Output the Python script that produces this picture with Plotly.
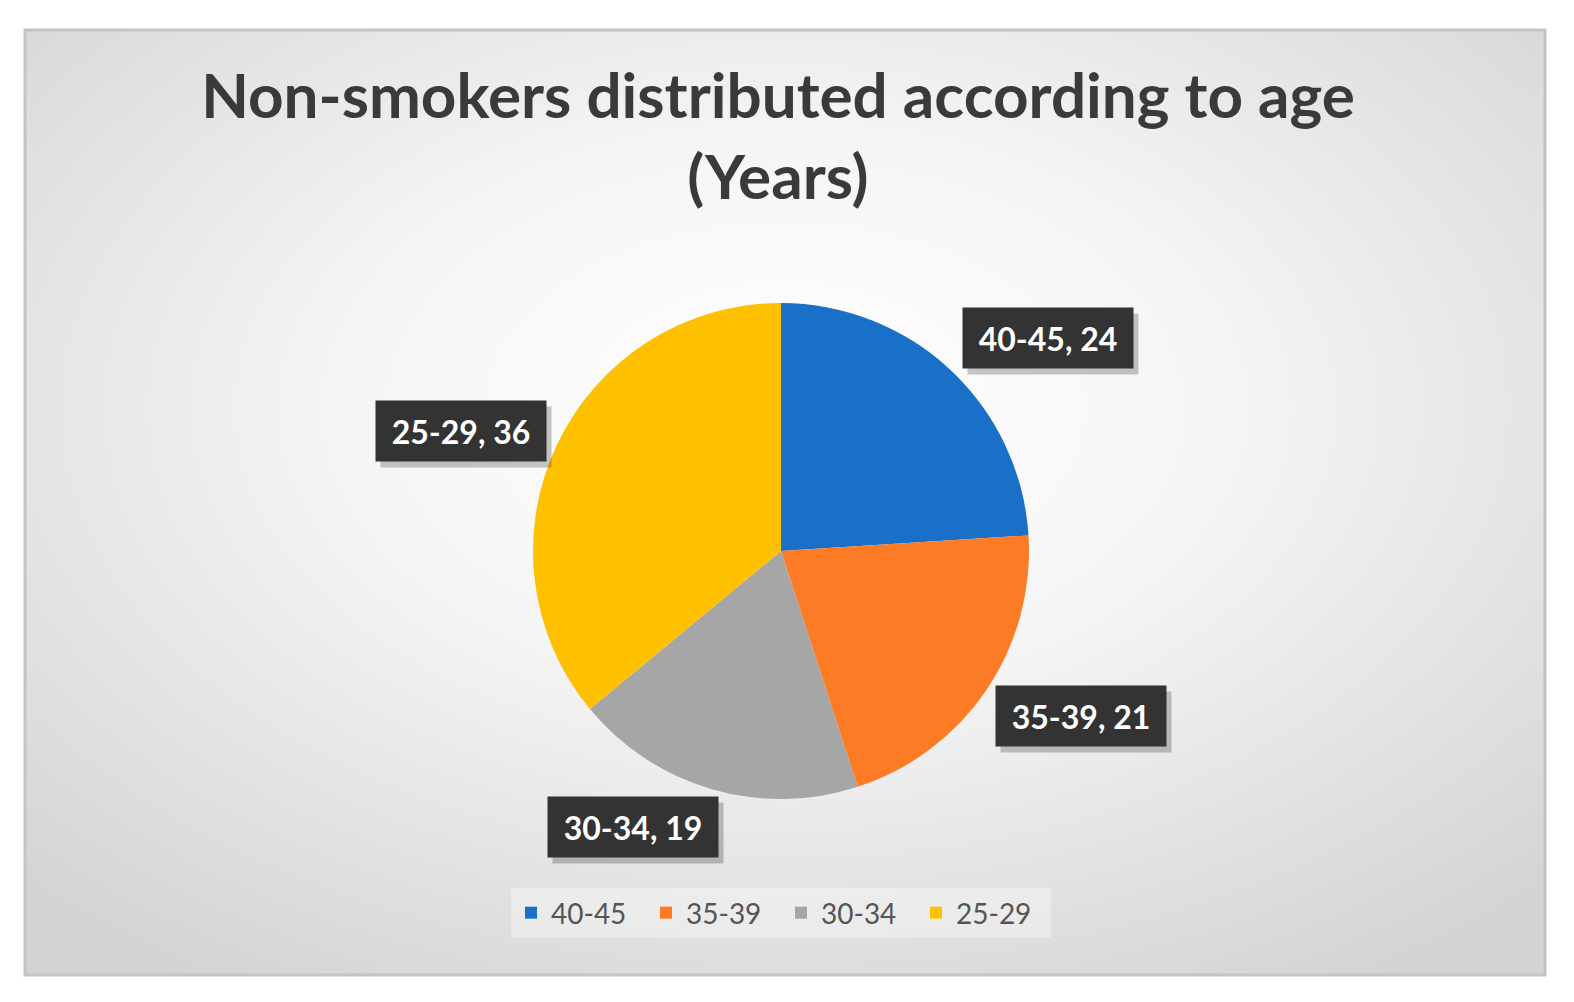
import base64
import plotly.graph_objects as go

# ---- data ----
categories = ["40-45", "35-39", "30-34", "25-29"]
values = [24, 21, 19, 36]
colors = ["#1a70c8", "#fd7b25", "#a6a6a6", "#ffc000"]
title_text = "Non-smokers distributed according to age<br>(Years)"

# page body has an 8px margin; size the figure to fit inside the window
OFF = 8
W, H = 1574 - 2 * OFF, 1002 - 2 * OFF

# label box centres (window px) for each category
label_pos = [(1048, 338), (1081, 716), (633, 827), (461, 431)]


def px_x(x):
    return (x - OFF) / W


def px_y(y):
    return 1 - (y - OFF) / H


box_left, box_top, box_right, box_bottom = 25, 30, 1545, 975
bw, bh = box_right - box_left, box_bottom - box_top

# radial gradient background as SVG
svg = (
    f'<svg xmlns="http://www.w3.org/2000/svg" width="{bw}" height="{bh}" viewBox="0 0 {bw} {bh}" preserveAspectRatio="none">'
    '<defs><radialGradient id="g" cx="50%" cy="40%" r="72%">'
    '<stop offset="0%" stop-color="#ffffff"/>'
    '<stop offset="40%" stop-color="#f5f5f5"/>'
    '<stop offset="100%" stop-color="#d3d3d3"/>'
    '</radialGradient></defs>'
    f'<rect width="{bw}" height="{bh}" fill="url(#g)"/></svg>'
)
svg_uri = "data:image/svg+xml;base64," + base64.b64encode(svg.encode()).decode()

fig = go.Figure()
fig.add_trace(go.Pie(
    labels=categories,
    values=values,
    sort=False,
    direction="clockwise",
    rotation=0,
    marker=dict(colors=colors, line=dict(width=0)),
    textinfo="none",
    hoverinfo="label+value",
    domain=dict(x=[px_x(533), px_x(1029)], y=[px_y(799), px_y(303)]),
))

annotations = []
for (cx, cy), cat, val in zip(label_pos, categories, values):
    # shadow
    annotations.append(dict(
        x=px_x(cx), y=px_y(cy), xref="paper", yref="paper",
        xanchor="center", yanchor="middle",
        text=" ", showarrow=False, width=170, height=60, borderpad=0,
        bgcolor="rgba(0,0,0,0.22)", xshift=5, yshift=-6,
    ))
    annotations.append(dict(
        x=px_x(cx), y=px_y(cy), xref="paper", yref="paper",
        xanchor="center", yanchor="middle",
        text=f"<b>{cat}, {val}</b>", showarrow=False, width=170, height=60, borderpad=0,
        bgcolor="#333333", font=dict(family="Lato", size=32, color="#ffffff"),
        align="center", valign="middle",
    ))

fig.update_layout(
    width=W, height=H,
    margin=dict(l=0, r=0, t=0, b=0),
    paper_bgcolor="#ffffff",
    plot_bgcolor="rgba(0,0,0,0)",
    title=dict(
        text=f"<b>{title_text}</b>",
        x=px_x(778), xanchor="center", y=px_y(118), yanchor="middle",
        font=dict(family="Lato", size=62, color="#3a3a3a"),
    ),
    showlegend=True,
    legend=dict(
        orientation="h", x=px_x(781), xanchor="center", y=px_y(913), yanchor="middle",
        font=dict(family="Lato", size=28, color="#555555"),
        bgcolor="rgba(255,255,255,0.35)", itemwidth=30,
        entrywidth=90, entrywidthmode="pixels",
        traceorder="normal",
    ),
    images=[dict(
        source=svg_uri, xref="paper", yref="paper",
        x=px_x(box_left), y=px_y(box_top),
        sizex=bw / W, sizey=bh / H,
        sizing="stretch", layer="below", xanchor="left", yanchor="top",
    )],
    shapes=[dict(
        type="rect", xref="paper", yref="paper",
        x0=px_x(box_left), x1=px_x(box_right), y0=px_y(box_bottom), y1=px_y(box_top),
        line=dict(color="#c4c4c4", width=3), fillcolor="rgba(0,0,0,0)", layer="below",
    )],
    annotations=annotations,
)

fig.write_html("out.html")
